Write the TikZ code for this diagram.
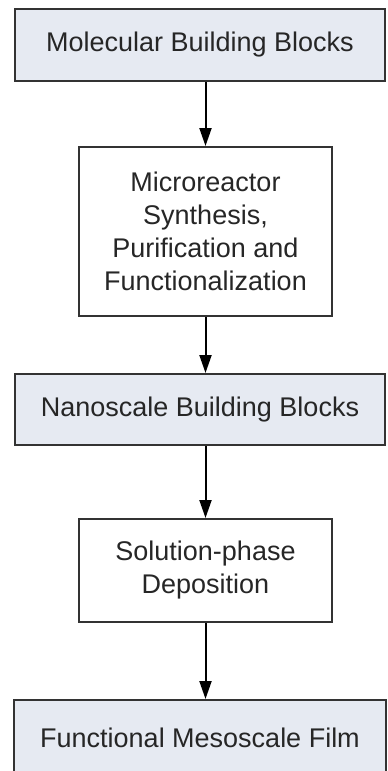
\documentclass[tikz,border=0pt]{standalone}
\usepackage{fontspec}
\setmainfont{Liberation Sans}
\usetikzlibrary{arrows.meta}
\definecolor{boxfill}{HTML}{E6EAF2}
\definecolor{boxline}{HTML}{333333}
\tikzset{
  bluebox/.style={draw=boxline, line width=2pt, fill=boxfill, rectangle, inner sep=0pt, align=center, font=\fontsize{27}{33}\selectfont, text=black!85},
  whitebox/.style={draw=boxline, line width=2pt, fill=white, rectangle, inner sep=0pt, align=center, font=\fontsize{27}{33}\selectfont, text=black!85},
  flow/.style={draw=black, line width=2pt, -{Triangle[width=12pt,length=18pt]}}
}
\begin{document}
\begin{tikzpicture}[x=1pt,y=-1pt]
\fill[white] (0,0) rectangle (388,771);
\useasboundingbox (0,0) rectangle (388,771);
\begin{scope}
\clip (0,0) rectangle (388,771);
\node[bluebox, minimum width=370pt, minimum height=72pt] (b1) at (200,45) {Molecular Building Blocks};
\node[whitebox, minimum width=253pt, minimum height=169pt] (b2) at (205.5,231.5) {Microreactor\\Synthesis,\\Purification and\\Functionalization};
\node[bluebox, minimum width=370pt, minimum height=71pt] (b3) at (200,409.5) {Nanoscale Building Blocks};
\node[whitebox, minimum width=253pt, minimum height=103pt] (b4) at (205.5,570.5) {Solution-phase\\Deposition};
\node[bluebox, minimum width=372pt, minimum height=76pt] (b5) at (200,738) {Functional Mesoscale Film};
\draw[flow] (b1.south -| b2.north) -- (b2.north);
\draw[flow] (b2.south) -- (b2.south |- b3.north);
\draw[flow] (b3.south -| b4.north) -- (b4.north);
\draw[flow] (b4.south) -- (b4.south |- b5.north);
\end{scope}
\end{tikzpicture}
\end{document}
